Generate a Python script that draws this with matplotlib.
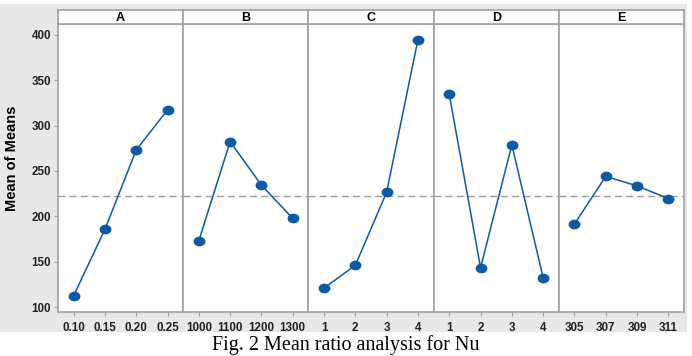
import matplotlib.pyplot as plt
from matplotlib.patches import Rectangle
from matplotlib.path import Path
from matplotlib.transforms import Affine2D

plt.rcParams["font.family"] = ["Liberation Sans", "DejaVu Sans"]

# Factor names and their level labels
factors = ["A", "B", "C", "D", "E"]
levels = {
    "A": ["0.10", "0.15", "0.20", "0.25"],
    "B": ["1000", "1100", "1200", "1300"],
    "C": ["1", "2", "3", "4"],
    "D": ["1", "2", "3", "4"],
    "E": ["305", "307", "309", "311"],
}

# Mean of means for each level
means_a = [112.5, 185.7, 273.2, 317.3]
means_b = [173.1, 282.4, 234.3, 197.7]
means_c = [120.9, 146.0, 226.6, 394.8]
means_d = [334.6, 143.3, 278.7, 132.3]
means_e = [191.5, 244.0, 233.5, 219.6]
means = {"A": means_a, "B": means_b, "C": means_c, "D": means_d, "E": means_e}

grand_mean = 222.2
y_ticks = [100, 150, 200, 250, 300, 350, 400]

W, H = 692, 356
fig = plt.figure(figsize=(W / 100, H / 100), dpi=100)
fig.patch.set_facecolor("white")

# Grey background panel behind the plot
fig.patches.append(Rectangle((0, (H - 332) / H), 687 / W, 328 / H,
                             transform=fig.transFigure, facecolor="#e8e8e8",
                             edgecolor="none", zorder=-10))

# Slightly flattened dot, like the original markers
ellipse = Path.unit_circle().transformed(Affine2D().scale(1, 0.8))

frame_col = "#a0a0a0"
line_col = "#0b5aa8"
left, pw = 58, 125.2
bottom, ph = (H - 312) / H, 288 / H

for i, f in enumerate(factors):
    x0 = (left + i * pw) / W
    ax = fig.add_axes([x0, bottom, pw / W, ph])
    xs = range(len(levels[f]))
    ax.axhline(grand_mean, color="#9a9a9a", lw=1, ls=(0, (5, 3)), zorder=1)
    ax.plot(xs, means[f], color=line_col, lw=1.1, marker=ellipse, ms=7.5,
            markerfacecolor=line_col, markeredgecolor=line_col, zorder=3)
    ax.set_xlim(-0.5, 3.5)
    ax.set_ylim(94.5, 412)
    ax.set_xticks(list(xs))
    ax.set_xticklabels(levels[f], fontsize=8.4, fontweight="bold", color="#222222")
    ax.tick_params(axis="x", length=3, color=frame_col, pad=4)
    ax.set_yticks(y_ticks)
    if i == 0:
        ax.set_yticklabels(y_ticks, fontsize=8.4, fontweight="bold", color="#222222")
        ax.tick_params(axis="y", length=3, color=frame_col, pad=2)
    else:
        ax.tick_params(axis="y", length=0, labelleft=False)
    for s in ax.spines.values():
        s.set_color(frame_col)
        s.set_linewidth(1.2)

    # Strip header with factor name
    sax = fig.add_axes([x0, (H - 24) / H, pw / W, 14 / H])
    sax.set_xticks([])
    sax.set_yticks([])
    sax.set_facecolor("white")
    for s in sax.spines.values():
        s.set_color(frame_col)
        s.set_linewidth(1.2)
    sax.text(0.5, 0.45, f, ha="center", va="center", fontsize=9,
             fontweight="bold", transform=sax.transAxes)

fig.text(12 / W, (H - 158) / H, "Mean of Means", rotation=90, ha="center",
         va="center", fontsize=10.5, fontweight="bold")

fig.text(346 / W, (H - 345) / H, "Fig. 2 Mean ratio analysis for Nu",
         ha="center", va="center", fontsize=14.5, family="Liberation Serif")

fig.savefig("out.png", dpi=100)
